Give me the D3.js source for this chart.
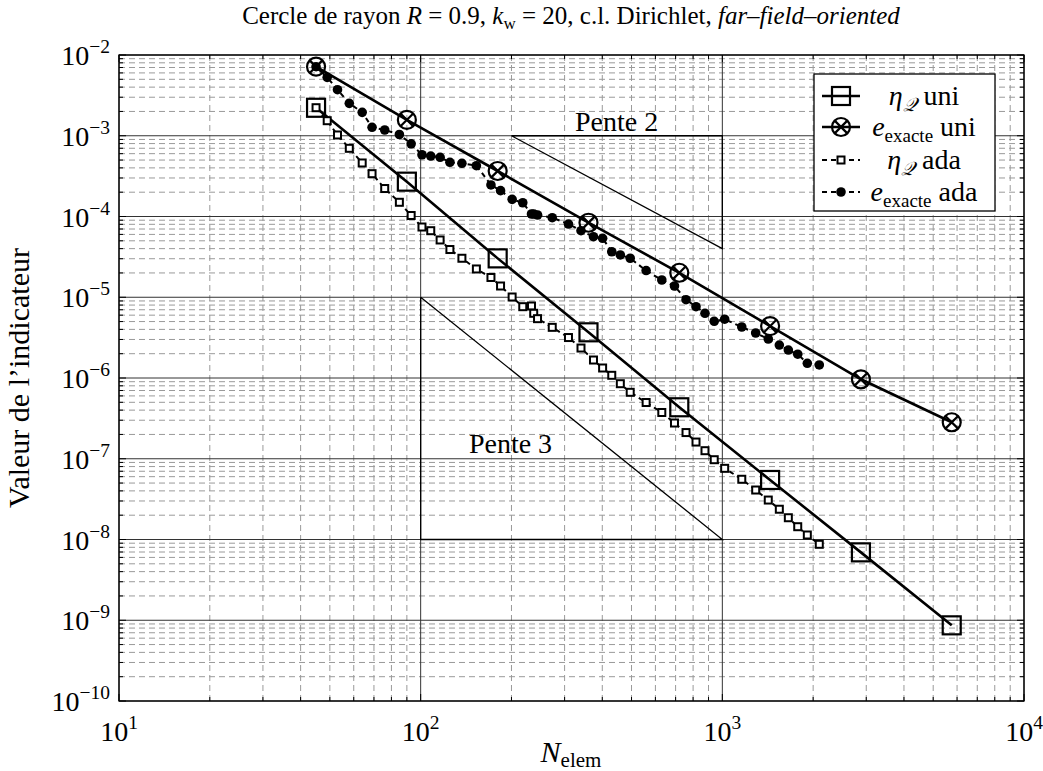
<!DOCTYPE html>
<html><head><meta charset="utf-8">
<script src="https://cdn.jsdelivr.net/npm/d3@7"></script>
<style>
body{margin:0;background:#fff}
svg{display:block}
text{font-family:"Liberation Serif","DejaVu Serif",serif;fill:#000}
</style>
</head><body>
<svg id="chart" width="1043" height="771"></svg>
<script>
// ---------- data ----------
const nUni   = [45, 90, 180, 360, 720, 1440, 2880, 5760];
const etaUni = [2.22e-3, 2.70e-4, 3.03e-5, 3.68e-6, 4.34e-7, 5.46e-8, 6.93e-9, 8.65e-10];
const errUni = [7.16e-3, 1.57e-3, 3.66e-4, 8.37e-5, 2.01e-5, 4.4e-6, 9.64e-7, 2.83e-7];

const nAda = [45, 49, 53, 58, 64, 69, 76, 85, 93, 101, 108, 116, 125, 137, 153, 171, 184, 201, 218, 233,
              237, 244, 273, 309, 340, 374, 401, 430, 459, 495, 559, 630, 694, 758, 818, 876, 940, 1018,
              1160, 1290, 1420, 1545, 1655, 1778, 1913, 2096];
const etaAda = [2.225e-3, 1.536e-3, 1.022e-3, 6.99e-4, 4.60e-4, 3.39e-4, 2.22e-4, 1.50e-4, 1.029e-4, 7.41e-5,
                6.67e-5, 5.12e-5, 3.90e-5, 3.04e-5, 2.24e-5, 1.757e-5, 1.378e-5, 1.007e-5, 7.64e-6, 7.79e-6,
                6.33e-6, 5.43e-6, 4.24e-6, 3.17e-6, 2.35e-6, 1.67e-6, 1.33e-6, 1.080e-6, 8.50e-7, 6.65e-7,
                4.97e-7, 3.74e-7, 2.77e-7, 2.11e-7, 1.61e-7, 1.258e-7, 9.73e-8, 7.61e-8, 5.57e-8, 4.10e-8,
                3.08e-8, 2.37e-8, 1.86e-8, 1.44e-8, 1.137e-8, 8.72e-9];
const errAda = [7.16e-3, 5.29e-3, 3.72e-3, 2.52e-3, 1.95e-3, 1.273e-3, 1.178e-3, 1.036e-3, 7.95e-4, 5.82e-4,
                5.61e-4, 5.41e-4, 4.69e-4, 4.56e-4, 4.26e-4, 2.46e-4, 2.09e-4, 1.63e-4, 1.48e-4, 1.074e-4,
                1.074e-4, 1.044e-4, 9.66e-5, 8.07e-5, 6.67e-5, 5.62e-5, 5.37e-5, 3.66e-5, 3.34e-5, 3.04e-5,
                2.14e-5, 1.635e-5, 1.378e-5, 9.33e-6, 7.64e-6, 6.33e-6, 5.04e-6, 5.35e-6, 4.28e-6, 3.61e-6,
                3.04e-6, 2.56e-6, 2.22e-6, 1.97e-6, 1.52e-6, 1.45e-6];

const xTickExp = [1, 2, 3, 4];
const yTickExp = [-2, -3, -4, -5, -6, -7, -8, -9, -10];

// slope triangles
const slope2 = {n0: 200, n1: 1000, v0: 1e-3, p: 2, label: "Pente 2", labelN: 446, labelV: 1.15e-3};
const slope3 = {n0: 100, n1: 1000, v0: 1e-5, p: 3, label: "Pente 3", labelN: 198.5, labelV: 1.18e-7};

const legendItems = [
  {sym: "η", sub: "𝒬", rest: " uni", kind: "bigsquare", dash: null},
  {sym: "e", sub: "exacte", rest: " uni", kind: "otimes", dash: null},
  {sym: "η", sub: "𝒬", rest: " ada", kind: "smallsquare", dash: "5,4"},
  {sym: "e", sub: "exacte", rest: " ada", kind: "dot", dash: "5,4"}
];

// ---------- layout ----------
const svg = d3.select("#chart");
const L = 119, R = 1024, T = 55, B = 701;
const x = d3.scaleLog().domain([1e1, 1e4]).range([L, R]);
const y = d3.scaleLog().domain([1e-10, 1e-2]).range([B, T]);

const minorX = [], minorY = [];
for (let e = 1; e < 4; e++) for (let m = 2; m <= 9; m++) minorX.push(m * Math.pow(10, e));
for (let e = -10; e < -2; e++) for (let m = 2; m <= 9; m++) minorY.push(m * Math.pow(10, e));
const majorX = xTickExp.map(e => Math.pow(10, e));
const majorY = yTickExp.map(e => Math.pow(10, e));

const g = svg.append("g");
g.selectAll(".mgx").data(minorX).join("line")
  .attr("x1", d => x(d)).attr("x2", d => x(d)).attr("y1", T).attr("y2", B)
  .attr("stroke", "#9a9a9a").attr("stroke-width", 1).attr("stroke-dasharray", "6,4");
g.selectAll(".mgy").data(minorY).join("line")
  .attr("y1", d => y(d)).attr("y2", d => y(d)).attr("x1", L).attr("x2", R)
  .attr("stroke", "#9a9a9a").attr("stroke-width", 1).attr("stroke-dasharray", "6,4");
g.selectAll(".Mgx").data(majorX).join("line")
  .attr("x1", d => x(d)).attr("x2", d => x(d)).attr("y1", T).attr("y2", B)
  .attr("stroke", "#333").attr("stroke-width", 1);
g.selectAll(".Mgy").data(majorY).join("line")
  .attr("y1", d => y(d)).attr("y2", d => y(d)).attr("x1", L).attr("x2", R)
  .attr("stroke", "#333").attr("stroke-width", 1);

const tk = svg.append("g").attr("stroke", "#000").attr("stroke-width", 1);
function ticks(vals, len) {
  vals.forEach(v => {
    const xv = x(v);
    tk.append("line").attr("x1", xv).attr("x2", xv).attr("y1", B).attr("y2", B - len);
    tk.append("line").attr("x1", xv).attr("x2", xv).attr("y1", T).attr("y2", T + len);
  });
}
function ticksY(vals, len) {
  vals.forEach(v => {
    const yv = y(v);
    tk.append("line").attr("y1", yv).attr("y2", yv).attr("x1", L).attr("x2", L + len);
    tk.append("line").attr("y1", yv).attr("y2", yv).attr("x1", R).attr("x2", R - len);
  });
}
ticks(minorX, 4); ticks(majorX, 7);
ticksY(minorY, 4); ticksY(majorY, 7);

const tri = svg.append("g").attr("fill", "none").attr("stroke", "#000").attr("stroke-width", 1.3);
[slope2, slope3].forEach(s => {
  const v1 = s.v0 * Math.pow(s.n1 / s.n0, -s.p);
  if (s.p === 2) {
    tri.append("path").attr("d", d3.line()([[x(s.n0), y(s.v0)], [x(s.n1), y(s.v0)], [x(s.n1), y(v1)], [x(s.n0), y(s.v0)]]));
  } else {
    tri.append("path").attr("d", d3.line()([[x(s.n0), y(s.v0)], [x(s.n0), y(v1)], [x(s.n1), y(v1)], [x(s.n0), y(s.v0)]]));
  }
  svg.append("text").attr("x", x(s.labelN)).attr("y", y(s.labelV)).attr("text-anchor", "middle")
    .attr("font-size", 28).text(s.label);
});

const line = d3.line().x(d => x(d[0])).y(d => y(d[1]));
const uniEta = nUni.map((n, i) => [n, etaUni[i]]);
const uniErr = nUni.map((n, i) => [n, errUni[i]]);
const adaEta = nAda.map((n, i) => [n, etaAda[i]]);
const adaErr = nAda.map((n, i) => [n, errAda[i]]);

svg.append("path").attr("d", line(adaEta)).attr("fill", "none").attr("stroke", "#000").attr("stroke-width", 2).attr("stroke-dasharray", "5,4");
svg.append("path").attr("d", line(adaErr)).attr("fill", "none").attr("stroke", "#000").attr("stroke-width", 2).attr("stroke-dasharray", "5,4");
svg.append("path").attr("d", line(uniEta)).attr("fill", "none").attr("stroke", "#000").attr("stroke-width", 2.6);
svg.append("path").attr("d", line(uniErr)).attr("fill", "none").attr("stroke", "#000").attr("stroke-width", 2.6);

function marker(sel, kind, cx, cy) {
  if (kind === "bigsquare") {
    sel.append("rect").attr("x", cx - 9).attr("y", cy - 9).attr("width", 18).attr("height", 18)
      .attr("fill", "none").attr("stroke", "#000").attr("stroke-width", 2.2);
  } else if (kind === "otimes") {
    sel.append("circle").attr("cx", cx).attr("cy", cy).attr("r", 9)
      .attr("fill", "none").attr("stroke", "#000").attr("stroke-width", 2.2);
    const d = 9 * Math.SQRT1_2;
    sel.append("path").attr("d", `M${cx - d},${cy - d}L${cx + d},${cy + d}M${cx - d},${cy + d}L${cx + d},${cy - d}`)
      .attr("stroke", "#000").attr("stroke-width", 2.2);
  } else if (kind === "smallsquare") {
    sel.append("rect").attr("x", cx - 3.5).attr("y", cy - 3.5).attr("width", 7).attr("height", 7)
      .attr("fill", "#fff").attr("stroke", "#000").attr("stroke-width", 2);
  } else {
    sel.append("circle").attr("cx", cx).attr("cy", cy).attr("r", 4.8).attr("fill", "#000");
  }
}
const mk = svg.append("g");
adaErr.forEach(d => marker(mk, "dot", x(d[0]), y(d[1])));
adaEta.forEach(d => marker(mk, "smallsquare", x(d[0]), y(d[1])));
uniEta.forEach(d => marker(mk, "bigsquare", x(d[0]), y(d[1])));
uniErr.forEach(d => marker(mk, "otimes", x(d[0]), y(d[1])));

svg.append("rect").attr("x", L).attr("y", T).attr("width", R - L).attr("height", B - T)
  .attr("fill", "none").attr("stroke", "#000").attr("stroke-width", 1.3);

const fs = 28, fsSup = 19.5;
xTickExp.forEach(e => {
  const t = svg.append("text").attr("x", x(Math.pow(10, e))).attr("y", 741).attr("text-anchor", "middle").attr("font-size", fs);
  t.append("tspan").text("10");
  t.append("tspan").attr("dy", -12).attr("font-size", fsSup).text(String(e));
});
yTickExp.forEach(e => {
  const t = svg.append("text").attr("x", 110).attr("y", y(Math.pow(10, e)) + 10).attr("text-anchor", "end").attr("font-size", fs);
  t.append("tspan").text("10");
  t.append("tspan").attr("dy", -12).attr("font-size", fsSup).text("−" + String(-e));
});

const xl = svg.append("text").attr("x", 571).attr("y", 762).attr("text-anchor", "middle").attr("font-size", 30);
xl.append("tspan").attr("font-style", "italic").text("N");
xl.append("tspan").attr("dy", 5).attr("font-size", 21).text("elem");

svg.append("text").attr("transform", "translate(29,378) rotate(-90)").attr("text-anchor", "middle")
  .attr("font-size", 30).text("Valeur de l’indicateur");

const tt = svg.append("text").attr("x", 571).attr("y", 24).attr("text-anchor", "middle").attr("font-size", 25);
tt.append("tspan").text("Cercle de rayon ");
tt.append("tspan").attr("font-style", "italic").text("R");
tt.append("tspan").text(" = 0.9, ");
tt.append("tspan").attr("font-style", "italic").text("k");
tt.append("tspan").attr("dy", 5).attr("font-size", 17).text("w");
tt.append("tspan").attr("dy", -5).text(" = 20, c.l. Dirichlet, ");
tt.append("tspan").attr("font-style", "italic").text("far–field–oriented");

const lg = svg.append("g");
lg.append("rect").attr("x", 814).attr("y", 74).attr("width", 181).attr("height", 137)
  .attr("fill", "#fff").attr("stroke", "#000").attr("stroke-width", 1.3);
const rowY = [96, 127, 160, 192];
legendItems.forEach((it, i) => {
  const yy = rowY[i];
  const ln = lg.append("line").attr("x1", 822).attr("x2", 860).attr("y1", yy).attr("y2", yy)
    .attr("stroke", "#000").attr("stroke-width", it.dash ? 2 : 2.6);
  if (it.dash) ln.attr("stroke-dasharray", it.dash);
  marker(lg, it.kind, 841, yy);
  const t = lg.append("text").attr("x", 924).attr("y", yy + 9).attr("text-anchor", "middle").attr("font-size", 28);
  t.append("tspan").attr("font-style", "italic").text(it.sym);
  t.append("tspan").attr("dy", 6).attr("font-size", 19).attr("font-style", it.sub === "𝒬" ? "italic" : "normal").text(it.sub);
  t.append("tspan").attr("dy", -6).text(it.rest);
});
</script>
</body></html>
